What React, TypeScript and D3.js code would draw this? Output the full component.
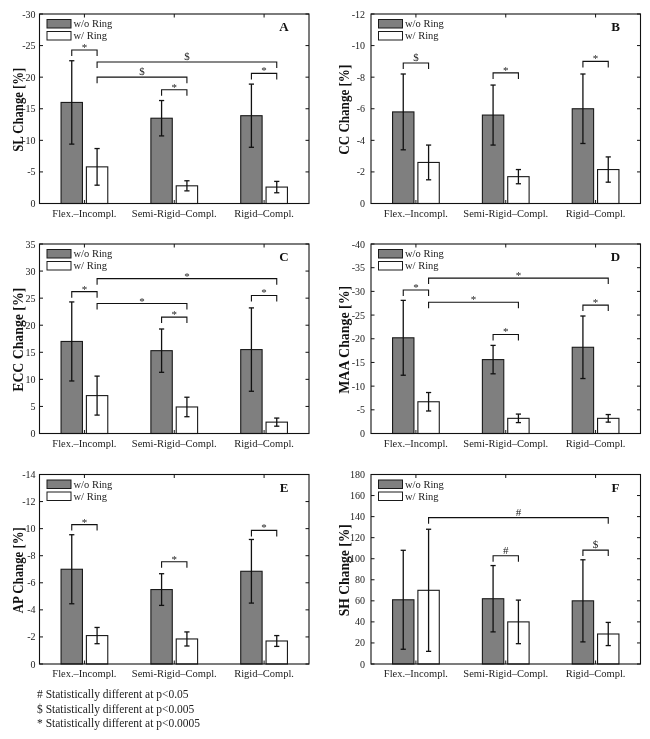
import React from "react";
import * as d3 from "d3";

// ---------- DATA ----------
const categories = ["Flex.–Incompl.", "Semi-Rigid–Compl.", "Rigid–Compl."];
const seriesNames = ["w/o Ring", "w/ Ring"];
const panelLetters = ["A", "B", "C", "D", "E", "F"];
const yLabels = ["SL Change [%]", "CC Change [%]", "ECC Change [%]", "MAA Change [%]", "AP Change [%]", "SH Change [%]"];
const yLimits = [-30, -12, 35, -40, -14, 180];
const yTickSteps = [5, 2, 5, 5, 2, 20];

// means per panel: [w/o Ring, w/ Ring] per category
const meansWithoutRing = [
  [-16.0, -13.5, -13.9],
  [-5.8, -5.6, -6.0],
  [17.0, 15.3, 15.5],
  [-20.2, -15.6, -18.2],
  [-7.0, -5.5, -6.85],
  [61, 62, 60],
];
const meansWithRing = [
  [-5.8, -2.8, -2.6],
  [-2.6, -1.7, -2.15],
  [7.0, 4.9, 2.1],
  [-6.7, -3.2, -3.2],
  [-2.1, -1.85, -1.7],
  [70, 40, 28.5],
];
const errWithoutRing = [
  [6.6, 2.8, 5.0],
  [2.4, 1.9, 2.2],
  [7.3, 4.0, 7.7],
  [7.9, 3.0, 6.6],
  [2.55, 1.17, 2.35],
  [47, 31.5, 39],
];
const errWithRing = [
  [2.9, 0.8, 0.9],
  [1.1, 0.45, 0.8],
  [3.6, 1.8, 0.75],
  [1.95, 0.9, 0.8],
  [0.6, 0.52, 0.4],
  [58, 20.7, 11],
];
// significance brackets: [fromCategory, fromSeries, toCategory, toSeries, level, symbol]
const brackets: [number, number, number, number, number, string][][] = [
  [[0, 0, 0, 1, -24.3, "*"], [0, 1, 2, 1, -22.4, "$"], [0, 1, 1, 1, -20.0, "$"], [1, 0, 1, 1, -18.0, "*"], [2, 0, 2, 1, -20.6, "*"]],
  [[0, 0, 0, 1, -8.9, "$"], [1, 0, 1, 1, -8.27, "*"], [2, 0, 2, 1, -9.0, "*"]],
  [[0, 0, 0, 1, 26.2, "*"], [0, 1, 2, 1, 28.6, "*"], [0, 1, 1, 1, 24.0, "*"], [1, 0, 1, 1, 21.5, "*"], [2, 0, 2, 1, 25.5, "*"]],
  [[0, 0, 0, 1, -30.3, "*"], [0, 1, 2, 1, -32.8, "*"], [0, 1, 1, 1, -27.7, "*"], [1, 0, 1, 1, -20.9, "*"], [2, 0, 2, 1, -27.1, "*"]],
  [[0, 0, 0, 1, -10.3, "*"], [1, 0, 1, 1, -7.55, "*"], [2, 0, 2, 1, -9.87, "*"]],
  [[0, 1, 2, 1, 139, "#"], [1, 0, 1, 1, 102.8, "#"], [2, 0, 2, 1, 108.2, "$"]],
];
const footnotes = [
  "# Statistically different at p<0.05",
  "$ Statistically different at p<0.005",
  "* Statistically different at p<0.0005",
];

// ---------- LAYOUT / STYLE ----------
const W = 650, H = 739;
const colLeft = [39.5, 371];
const colLabelOffset = [22, 27.5];
const colTickGap = [4, 6];
const plotW = 269.5;
const rowTop = [14, 244, 474.5];
const plotH = 189.5;
const yLabelLen = [84, 90, 104, 108, 86, 92];
const FONT = "'Liberation Serif', 'Times New Roman', serif";
const barFill = ["#7f7f7f", "#ffffff"];
const BAR_W = 0.238;
const BAR_OFF = 0.141;

function Panel({ i }: { i: number }) {
  const col = i % 2;
  const left = colLeft[col];
  const top = rowTop[Math.floor(i / 2)];
  const right = left + plotW;
  const bottom = top + plotH;
  const x = d3.scaleLinear().domain([0.5, 3.5]).range([left, right]);
  const y = d3.scaleLinear().domain([0, yLimits[i]]).range([bottom, top]);
  const step = yTickSteps[i] * Math.sign(yLimits[i]);
  const nTicks = Math.round(yLimits[i] / step);
  const ticks = d3.range(0, nTicks + 1).map((k) => k * step);
  const means = [meansWithoutRing[i], meansWithRing[i]];
  const errs = [errWithoutRing[i], errWithRing[i]];
  const barX = (c: number, s: number) => x(c + 1 + (s === 0 ? -BAR_OFF : BAR_OFF));
  const bw = x(BAR_W) - x(0);
  const tickLen = 3.5;
  const capW = 2.6;
  const drop = 6;

  return (
    <g>
      {/* bars */}
      {means.map((arr, s) =>
        arr.map((v, c) => {
          const cx = barX(c, s);
          const y0 = y(0), y1 = y(v);
          return (
            <rect key={`b${s}${c}`} x={cx - bw / 2} y={Math.min(y0, y1)} width={bw} height={Math.abs(y1 - y0)}
              fill={barFill[s]} stroke="#1a1a1a" strokeWidth={1.1} />
          );
        })
      )}
      {/* error bars */}
      {means.map((arr, s) =>
        arr.map((v, c) => {
          const cx = barX(c, s);
          const e = errs[s][c];
          const ya = y(v - e), yb = y(v + e);
          return (
            <g key={`e${s}${c}`} stroke="#111" strokeWidth={1.3}>
              <line x1={cx} x2={cx} y1={ya} y2={yb} />
              <line x1={cx - capW} x2={cx + capW} y1={ya} y2={ya} />
              <line x1={cx - capW} x2={cx + capW} y1={yb} y2={yb} />
            </g>
          );
        })
      )}
      {/* axes box */}
      <rect x={left} y={top} width={plotW} height={plotH} fill="none" stroke="#111" strokeWidth={1.1} />
      {/* y ticks */}
      {ticks.map((t) => (
        <g key={`t${t}`}>
          <line x1={left} x2={left + tickLen} y1={y(t)} y2={y(t)} stroke="#111" />
          <line x1={right} x2={right - tickLen} y1={y(t)} y2={y(t)} stroke="#111" />
          <text x={left - colTickGap[col]} y={y(t)} dy="0.35em" textAnchor="end" fontSize={10} fontFamily={FONT} fill="#222">
            {String(t)}
          </text>
        </g>
      ))}
      {/* x ticks and labels */}
      {categories.map((cat, c) => (
        <g key={`x${c}`}>
          <line x1={x(c + 1)} x2={x(c + 1)} y1={bottom} y2={bottom - tickLen} stroke="#111" />
          <line x1={x(c + 1)} x2={x(c + 1)} y1={top} y2={top + tickLen} stroke="#111" />
          <text x={x(c + 1)} y={bottom + 13} textAnchor="middle" fontSize={10.5} fontFamily={FONT} fill="#222">
            {cat}
          </text>
        </g>
      ))}
      {/* brackets */}
      {brackets[i].map(([c1, s1, c2, s2, lvl, sym], k) => {
        const xa = barX(c1, s1), xb = barX(c2, s2);
        const yl = y(lvl);
        return (
          <g key={`br${k}`}>
            <path d={`M${xa},${yl + drop}V${yl}H${xb}V${yl + drop}`} fill="none" stroke="#111" strokeWidth={1.1} />
            <text x={(xa + xb) / 2} y={sym === "*" ? yl + 1 : yl - 2} textAnchor="middle" fontSize={11} fontFamily={FONT} fill="#222">
              {sym}
            </text>
          </g>
        );
      })}
      {/* legend */}
      {seriesNames.map((name, s) => (
        <g key={`lg${s}`}>
          <rect x={left + 7.5} y={top + 5.5 + s * 12} width={24} height={8.5} fill={barFill[s]} stroke="#1a1a1a" strokeWidth={1} />
          <text x={left + 34} y={top + 9.8 + s * 12} dy="0.35em" fontSize={10.5} fontFamily={FONT} fill="#222">
            {name}
          </text>
        </g>
      ))}
      {/* panel letter */}
      <text x={right - 25} y={top + 17} textAnchor="middle" fontSize={13} fontWeight="bold" fontFamily={FONT} fill="#111">
        {panelLetters[i]}
      </text>
      {/* y label */}
      <text transform={`translate(${left - colLabelOffset[col]},${(top + bottom) / 2 + 1}) rotate(-90)`} textAnchor="middle" dy="0.35em"
        fontSize={15} fontWeight="bold" fontFamily={FONT} fill="#111"
        textLength={yLabelLen[i]} lengthAdjust="spacingAndGlyphs">
        {yLabels[i]}
      </text>
    </g>
  );
}

export default function App() {
  return (
    <svg width={W} height={H} style={{ position: "absolute", left: 0, top: 0, background: "#fff", willChange: "transform" }}>
      <rect width={W} height={H} fill="#fff" />
      {panelLetters.map((_, i) => (
        <Panel key={i} i={i} />
      ))}
      {footnotes.map((f, k) => (
        <text key={k} x={37} y={698 + k * 14.5} fontSize={11.5} fontFamily={FONT} fill="#222">
          {f}
        </text>
      ))}
    </svg>
  );
}
